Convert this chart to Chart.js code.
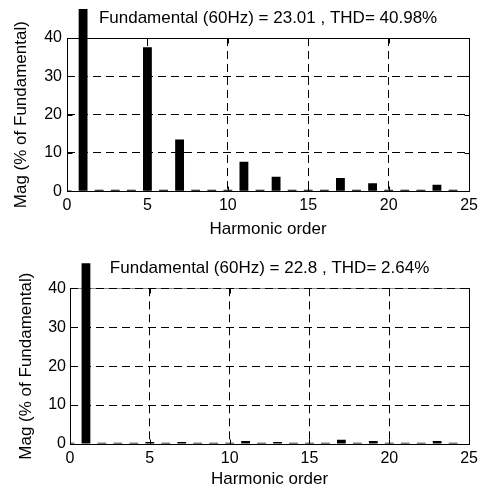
<!DOCTYPE html>
<html>
<head>
<meta charset="utf-8">
<script src="https://cdn.jsdelivr.net/npm/chart.js@4/dist/chart.umd.min.js"></script>
<style>
  html, body { margin: 0; padding: 0; background: #fff; }
  #wrap { position: relative; width: 483px; height: 490px; }
  canvas { position: absolute; left: 0; }
</style>
</head>
<body>
<div id="wrap">
  <canvas id="c1" width="483" height="245" style="top:0"></canvas>
  <canvas id="c2" width="483" height="245" style="top:245px"></canvas>
</div>
<script>
// ---- data ----
const harmonics = [0,1,2,3,4,5,6,7,8,9,10,11,12,13,14,15,16,17,18,19,20,21,22,23,24];
const magBefore = [0.3,100,0.4,0.4,0.4,37.6,0.4,13.5,0.4,0.4,0.4,7.7,0.4,3.8,0.4,0.4,0.4,3.5,0.4,2.1,0.4,0.4,0.4,1.7,0.4];
const magAfter  = [0.3,100,0.3,0.3,0.3,0.5,0.3,0.5,0.3,0.3,0.3,0.8,0.3,0.5,0.3,0.3,0.3,1.1,0.3,0.8,0.3,0.3,0.3,0.8,0.3];
const xTicks = [0,5,10,15,20,25];
const yTicks = [0,10,20,30,40];
const titleBefore = 'Fundamental (60Hz) = 23.01 , THD= 40.98%';
const titleAfter  = 'Fundamental (60Hz) = 22.8 , THD= 2.64%';
const xLabel = 'Harmonic order';
const yLabel = 'Mag (% of Fundamental)';

const FONT = "'Liberation Sans', Arial, Helvetica, sans-serif";

const boxPlugin = {
  id: 'box',
  beforeDraw(chart, args, opts) {
    if (!opts.topColor) return;
    const {ctx, chartArea: a} = chart;
    ctx.save();
    ctx.strokeStyle = opts.topColor;
    ctx.lineWidth = 1;
    const t = Math.round(a.top) + 0.5;
    ctx.beginPath(); ctx.moveTo(a.left, t); ctx.lineTo(a.right, t); ctx.stroke();
    ctx.restore();
  },
  afterDatasetsDraw(chart, args, opts) {
    const {ctx, chartArea: a} = chart;
    const xs = chart.scales.x, ys = chart.scales.y;
    const L = Math.round(a.left) + 0.5, R = Math.round(a.right) + 0.5;
    const T = Math.round(a.top) + 0.5, B = Math.round(a.bottom) + 0.5;
    const tl = 5;
    ctx.save();
    ctx.strokeStyle = '#000';
    ctx.lineWidth = 1;
    ctx.beginPath();
    xs.ticks.forEach(t => {
      const px = Math.round(xs.getPixelForValue(t.value)) + 0.5;
      ctx.moveTo(px, B); ctx.lineTo(px, B - tl);
      ctx.moveTo(px, T); ctx.lineTo(px, T + tl);
    });
    ys.ticks.forEach(t => {
      const py = Math.round(ys.getPixelForValue(t.value)) + 0.5;
      ctx.moveTo(L, py); ctx.lineTo(L + tl, py);
      ctx.moveTo(R, py); ctx.lineTo(R - tl, py);
    });
    ctx.moveTo(L, T); ctx.lineTo(L, B); ctx.lineTo(R, B); ctx.lineTo(R, T);
    if (!opts.topColor) { ctx.lineTo(L, T); }
    ctx.stroke();
    ctx.restore();
  }
};

function makeChart(id, mags, title, cfg) {
  return new Chart(document.getElementById(id), {
    type: 'bar',
    data: {
      datasets: [{
        data: harmonics.map((h, i) => ({x: h, y: mags[i]})),
        backgroundColor: '#000',
        borderWidth: 0,
        barPercentage: 0.55,
        categoryPercentage: 1,
        clip: {left: 0, top: cfg.clipTop, right: 0, bottom: 0}
      }]
    },
    options: {
      responsive: false,
      animation: false,
      devicePixelRatio: 1,
      layout: { padding: {left: 0, right: 12, top: 0, bottom: 0} },
      plugins: {
        legend: { display: false },
        tooltip: { enabled: false },
        title: {
          display: true,
          text: title,
          fullSize: false,
          color: '#000',
          font: {family: FONT, size: 17, weight: 'normal'},
          padding: {top: cfg.titleTop, bottom: cfg.titleBottom}
        },
        box: { topColor: cfg.topColor }
      },
      scales: {
        x: {
          type: 'linear',
          min: 0, max: 25,
          offset: false,
          afterBuildTicks: s => { s.ticks = xTicks.map(v => ({value: v})); },
          afterFit: s => { s.height = cfg.xHeight; },
          ticks: { color: '#000', font: {family: FONT, size: 16}, padding: 5, maxRotation: 0, autoSkip: false },
          grid: { offset: false, color: '#000', lineWidth: 1, drawTicks: false },
          border: { display: false, dash: [8, 5] },
          title: { display: true, text: xLabel, color: '#000', font: {family: FONT, size: 17}, padding: {top: 0, bottom: cfg.xTitleBottom} }
        },
        y: {
          min: 0, max: 40,
          afterBuildTicks: s => { s.ticks = yTicks.map(v => ({value: v})); },
          afterFit: s => { s.width = cfg.yWidth; },
          ticks: { color: '#000', font: {family: FONT, size: 16}, padding: cfg.yTickPad },
          grid: { color: '#000', lineWidth: 1, drawTicks: false },
          border: { display: false, dash: [8, 5] },
          title: { display: true, text: yLabel, color: '#000', font: {family: FONT, size: 17}, padding: {top: cfg.yTitleTop, bottom: 0} }
        }
      }
    },
    plugins: [boxPlugin]
  });
}

makeChart('c1', magBefore, titleBefore, {
  clipTop: 29, titleTop: 8.5, titleBottom: 9.1, xHeight: 53.7, xTitleBottom: 5.8,
  yWidth: 67, yTickPad: 5, yTitleTop: 11.5, topColor: null
});
makeChart('c2', magAfter, titleAfter, {
  clipTop: 25, titleTop: 12.8, titleBottom: 10.1, xHeight: 46, xTitleBottom: 0.3,
  yWidth: 70, yTickPad: 4, yTitleTop: 16, topColor: '#888'
});
</script>
</body>
</html>
